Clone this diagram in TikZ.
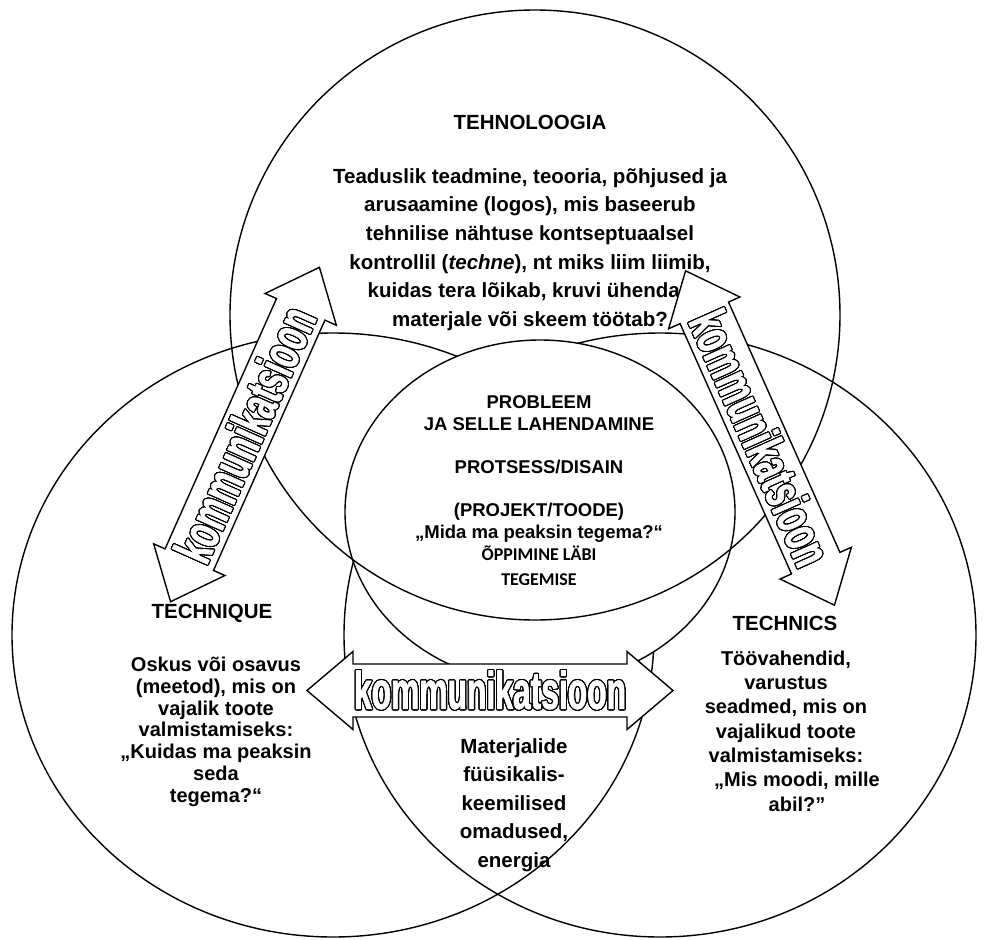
\documentclass[tikz,border=0pt]{standalone}
\usepackage{fontspec}
\setmainfont{Liberation Sans}
\newfontfamily\calfont{Carlito}
\newfontfamily\kommfont{Liberation Sans}[FakeStretch=0.6,FakeBold=1.2]
\usepackage{contour}
\contourlength{1.1pt}
\contournumber{32}

\begin{document}
\begin{tikzpicture}[x=1pt,y=-1pt,
  ring/.style={line width=1.4pt},
  arrowline/.style={draw,fill=white,line width=1.4pt,line join=miter},
  kommtext/.style={font=\kommfont\bfseries\fontsize{53}{60}\selectfont,text=white,inner sep=0pt},
  title/.style={font=\bfseries\fontsize{20.5}{24}\selectfont,inner sep=0pt,anchor=base},
  body/.style={align=center,inner sep=0pt,anchor=base},
  kommarrow/.pic={
    \draw[arrowline] (-183,0) -- (-137,-39) -- (-137,-26.5) -- (137,-26.5) -- (137,-39)
      -- (183,0) -- (137,39) -- (137,26.5) -- (-137,26.5) -- (-137,39) -- cycle;
    \node[kommtext,transform shape] (-word) at (0,0) {\contour{black}{kommunikatsioon}};
  }]
  \useasboundingbox (0,0) rectangle (986,940);
  \clip (0,0) rectangle (986,940);

  % Big circles: technique, technics
  \draw[ring] (333,635) ellipse [x radius=321, y radius=302];
  \draw[ring] (660,635) ellipse [x radius=316, y radius=302];
  % Problem in the middle, then technology on top
  \draw[ring,fill=white] (540,512) ellipse [x radius=195, y radius=172];
  \draw[ring] (535,315) circle [radius=305];

  % Technology (base = last line)
  \node[title] (tehtitle) at (530,129) {TEHNOLOOGIA};
  \node[body,font=\bfseries\fontsize{20.5}{28.7}\selectfont] (tehbody) at (530,326.5)
    {Teaduslik teadmine, teooria, põhjused ja\\arusaamine (logos), mis baseerub\\tehnilise nähtuse kontseptuaalsel\\kontrollil (\textit{techne}), nt miks liim liimib,\\kuidas tera lõikab, kruvi ühendab\\materjale või skeem töötab?};

  % Problem
  \node[body,font=\bfseries\fontsize{18.5}{21.6}\selectfont] (probleem) at (539,538)
    {PROBLEEM\\JA SELLE LAHENDAMINE\\[21.6pt]PROTSESS/DISAIN\\[21.6pt](PROJEKT/TOODE)\\„Mida ma peaksin tegema?“};
  \node[body,font=\calfont\bfseries\fontsize{18}{25}\selectfont] (learning) at (539,585)
    {ÕPPIMINE LÄBI\\TEGEMISE};

  % Technique
  \node[title] (techniquetitle) at (212,618) {TECHNIQUE};
  \node[body,font=\bfseries\fontsize{20}{21.7}\selectfont] (techniquebody) at (216,802)
    {Oskus või osavus\\(meetod), mis on\\vajalik toote\\valmistamiseks:\\„Kuidas ma peaksin\\seda\\tegema?“};

  % Technics
  \node[title] (technicstitle) at (785,630) {TECHNICS};
  \node[body,font=\bfseries\fontsize{20}{24.3}\selectfont] (technicsbody) at (786,811)
    {Töövahendid,\\varustus\hspace*{1em}\\seadmed, mis on\\vajalikud toote\\valmistamiseks:\\\hspace*{1.1em}„Mis moodi, mille\\\hspace*{1.1em}abil?”};

  % Materials
  \node[body,font=\bfseries\fontsize{20.5}{28.5}\selectfont] (materials) at (514,867)
    {Materjalide\\füüsikalis-\\keemilised\\omadused,\\energia};

  % Communication arrows
  \pic[rotate=66] (leftcomm) at (245,434.5) {kommarrow};
  \pic[rotate=-66] (rightcomm) at (760,438) {kommarrow};
  \pic (midcomm) at (490,690.5) {kommarrow};
\end{tikzpicture}
\end{document}
